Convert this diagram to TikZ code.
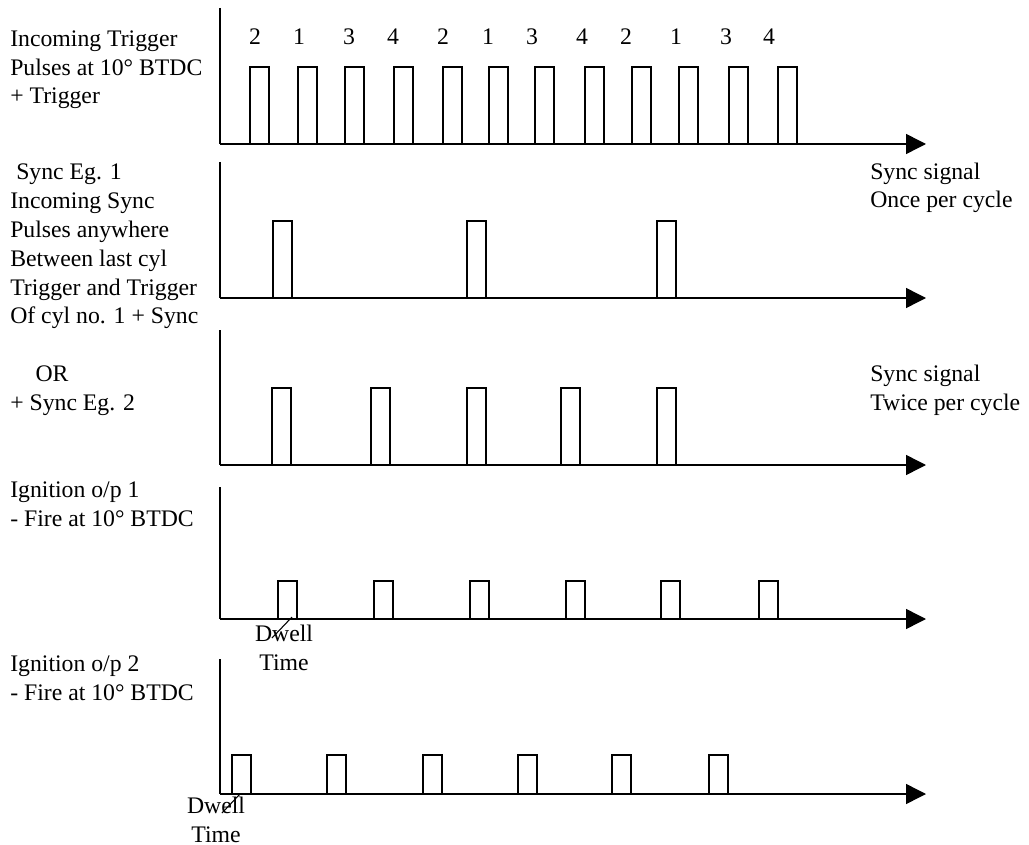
\documentclass[tikz,border=0pt]{standalone}
\usepackage{fontspec}
\setmainfont{Liberation Serif}
\usepackage{tikz}
\usetikzlibrary{positioning,arrows.meta}
\tikzset{
  axis/.style={line width=0.9pt},
  timeline/.style={line width=1.1pt,-{Triangle[length=15pt,width=15pt]}},
  pulse/.style={line width=0.8pt},
  lbl/.style={anchor=base west,align=left,inner sep=0pt,font=\fontsize{17.8}{21.6}\selectfont},
  num/.style={anchor=base,inner sep=0pt,font=\fontsize{17.8}{21.6}\selectfont},
}

\begin{document}
\begin{tikzpicture}[x=0.75pt,y=-0.75pt]
\useasboundingbox (0,0) rectangle (1029,845);

% axes of the five traces
\foreach \name/\top/\base in {trig/8/144,syncA/162/298,syncB/330/465,ignA/487/619,ignB/659/794}{
  \coordinate (\name top) at (220,\top);
  \coordinate (\name 0) at (220,\base);
  \coordinate (\name end) at (926,\base);
  \draw[axis] (\name top) -- (\name 0);
  \draw[timeline] (\name 0) -- (\name end);
}

% pulses
\foreach \x in {250,298,345,394,443,489,535,585,632,679,729,778}
  \draw[pulse] (\x,144) -- ++(0,-77) -- ++(19,0) -- ++(0,77);
\foreach \x in {273,467,657}
  \draw[pulse] (\x,298) -- ++(0,-77) -- ++(19,0) -- ++(0,77);
\foreach \x in {272,371,467,561,657}
  \draw[pulse] (\x,465) -- ++(0,-77) -- ++(19,0) -- ++(0,77);
\foreach \x in {278,374,470,566,661,759}
  \draw[pulse] (\x,619) -- ++(0,-38) -- ++(19,0) -- ++(0,38);
\foreach \x in {232,327,423,518,612,709}
  \draw[pulse] (\x,794) -- ++(0,-39) -- ++(19,0) -- ++(0,39);

% cylinder numbers
\foreach \x/\cyl [count=\i] in {255/2,299/1,349/3,393/4,443/2,488/1,532/3,582/4,626/2,676/1,726/3,769/4}
  \node[num] (cyl\i) at (\x,45) {\cyl};

% labels (anchored on the last line)
\node[lbl] (trigLbl) at (10,104) {Incoming Trigger\\Pulses at 10° BTDC\\+ Trigger};
\node[lbl] (syncALbl) at (10,324) {\hspace*{4.5pt}Sync Eg. 1\\Incoming Sync\\Pulses anywhere\\Between last cyl\\Trigger and Trigger\\Of cyl no. 1 + Sync};
\node[lbl] (syncBLbl) at (10,410) {\hspace*{19pt}OR\\+ Sync Eg. 2};
\node[lbl] (ignALbl) at (10,526) {Ignition o/p 1\\- Fire at 10° BTDC};
\node[lbl] (ignBLbl) at (10,700) {Ignition o/p 2\\- Fire at 10° BTDC};
\node[lbl] (onceLbl) at (870,208) {Sync signal\\Once per cycle};
\node[lbl] (twiceLbl) at (870,410) {Sync signal\\Twice per cycle};

% dwell time
\node[num,align=center] (dwellALbl) at (284,670) {Dwell\\Time};
\node[num,align=center] (dwellBLbl) at (216,842) {Dwell\\Time};
\coordinate (dwellA1) at (292,617);
\coordinate (dwellA2) at (272,638);
\coordinate (dwellB1) at (240,794);
\coordinate (dwellB2) at (222,813);
\draw[pulse] (dwellA1) -- (dwellA2);
\draw[pulse] (dwellB1) -- (dwellB2);

\end{tikzpicture}
\end{document}
